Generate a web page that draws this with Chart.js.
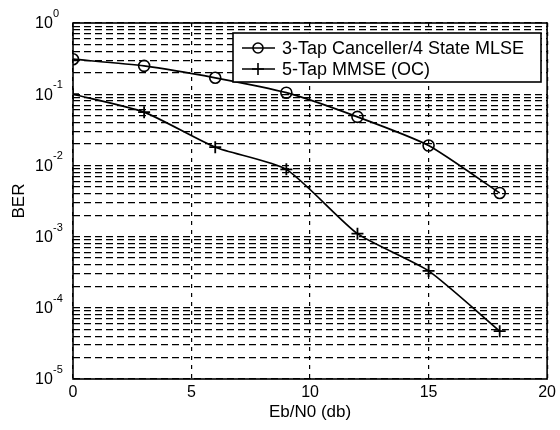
<!DOCTYPE html>
<html>
<head>
<meta charset="utf-8">
<script src="https://cdn.jsdelivr.net/npm/chart.js@4/dist/chart.umd.min.js"></script>
<style>
  html, body { margin: 0; background: #fff; }
  #wrap { width: 560px; height: 430px; }
</style>
</head>
<body>
<div id="wrap"><canvas id="chart"></canvas></div>
<script>
const ebno = [0, 3, 6, 9, 12, 15, 18];
const berCanceller = [0.31, 0.25, 0.17, 0.105, 0.048, 0.019, 0.0041];
const berMmse = [0.1, 0.056, 0.018, 0.0088, 0.0011, 0.00033, 0.000047];
const seriesNames = ["3-Tap Canceller/4 State MLSE", "5-Tap MMSE (OC)"];
const yDecades = [-5, -4, -3, -2, -1, 0];
const xLabel = "Eb/N0 (db)";
const yLabel = "BER";

const FONT = "'Liberation Sans', Arial, sans-serif";

// 10^n labels with a raised exponent, legend box and plot frame
const decor = {
  id: "decor",
  afterDraw(chart) {
    const ctx = chart.ctx;
    const area = chart.chartArea;
    const y = chart.scales.y;
    ctx.save();
    ctx.fillStyle = "#000";
    ctx.textBaseline = "middle";
    ctx.textAlign = "left";
    yDecades.forEach(d => {
      const py = y.getPixelForValue(Math.pow(10, d));
      ctx.font = "16px " + FONT;
      ctx.fillText("10", 35, py + 1);
      ctx.font = "11px " + FONT;
      ctx.fillText(d === 0 ? "0" : "-" + Math.abs(d), 53, py - 9);
    });

    ctx.setLineDash([]);
    ctx.strokeStyle = "#000";
    ctx.lineWidth = 1.6;
    ctx.strokeRect(area.left, area.top, area.right - area.left, area.bottom - area.top);

    // legend
    const bx = 233, by = 33, bw = 308, bh = 49;
    ctx.fillStyle = "#fff";
    ctx.fillRect(bx, by, bw, bh);
    ctx.lineWidth = 1.6;
    ctx.strokeRect(bx, by, bw, bh);
    const rows = [48, 69];
    chart.data.datasets.forEach((ds, i) => {
      const ry = rows[i];
      ctx.lineWidth = 1.6;
      ctx.beginPath();
      ctx.moveTo(242, ry);
      ctx.lineTo(275, ry);
      ctx.stroke();
      ctx.beginPath();
      if (ds.pointStyle === "circle") {
        ctx.arc(258, ry, 5, 0, Math.PI * 2);
      } else {
        ctx.moveTo(252, ry); ctx.lineTo(264, ry);
        ctx.moveTo(258, ry - 6); ctx.lineTo(258, ry + 6);
      }
      ctx.stroke();
      ctx.fillStyle = "#000";
      ctx.font = "18px " + FONT;
      ctx.fillText(ds.label, 282, ry + 1);
    });
    ctx.restore();
  }
};

const ctx = document.getElementById("chart").getContext("2d");

const chart = new Chart(ctx, {
  type: "line",
  data: {
    datasets: [{
      label: seriesNames[0],
      data: ebno.map((x, i) => ({ x: x, y: berCanceller[i] })),
      borderColor: "#000",
      borderWidth: 1.7,
      pointStyle: "circle",
      pointRadius: 5.5,
      pointBorderColor: "#000",
      pointBackgroundColor: "rgba(0,0,0,0)",
      pointBorderWidth: 1.6,
      tension: 0.2
    }, {
      label: seriesNames[1],
      data: ebno.map((x, i) => ({ x: x, y: berMmse[i] })),
      borderColor: "#000",
      borderWidth: 1.7,
      pointStyle: "cross",
      pointRadius: 6,
      pointBorderColor: "#000",
      pointBorderWidth: 1.8,
      tension: 0.2
    }]
  },
  options: {
    responsive: true,
    maintainAspectRatio: false,
    animation: false,
    layout: { padding: { top: 23, right: 10, left: 0, bottom: 0 } },
    plugins: {
      legend: { display: false },
      tooltip: { enabled: false }
    },
    scales: {
      x: {
        type: "linear",
        min: 0,
        max: 20,
        afterFit: s => { s.height = 51; },
        ticks: {
          stepSize: 5,
          color: "#000",
          padding: 4,
          maxRotation: 0,
          font: { family: FONT, size: 16 }
        },
        grid: { color: "#000", lineWidth: 1.2, drawTicks: false },
        border: { display: false, dash: [4, 5] },
        title: {
          display: true,
          text: xLabel,
          color: "#000",
          padding: { top: 0, bottom: 7 },
          font: { family: FONT, size: 17 }
        }
      },
      y: {
        type: "logarithmic",
        min: 1e-5,
        max: 1,
        afterFit: s => { s.width = 73; },
        afterBuildTicks: s => {
          const t = [];
          yDecades.forEach(d => {
            if (d === 0) { t.push({ value: 1 }); return; }
            for (let m = 1; m <= 9; m++) t.push({ value: m * Math.pow(10, d) });
          });
          s.ticks = t;
        },
        ticks: { display: false },
        grid: { color: "#000", lineWidth: 1.2, drawTicks: false },
        border: { display: false, dash: [7, 4] },
        title: {
          display: true,
          text: yLabel,
          color: "#000",
          padding: { top: 9, bottom: 0 },
          font: { family: FONT, size: 17 }
        }
      }
    }
  },
  plugins: [decor]
});
</script>
</body>
</html>
